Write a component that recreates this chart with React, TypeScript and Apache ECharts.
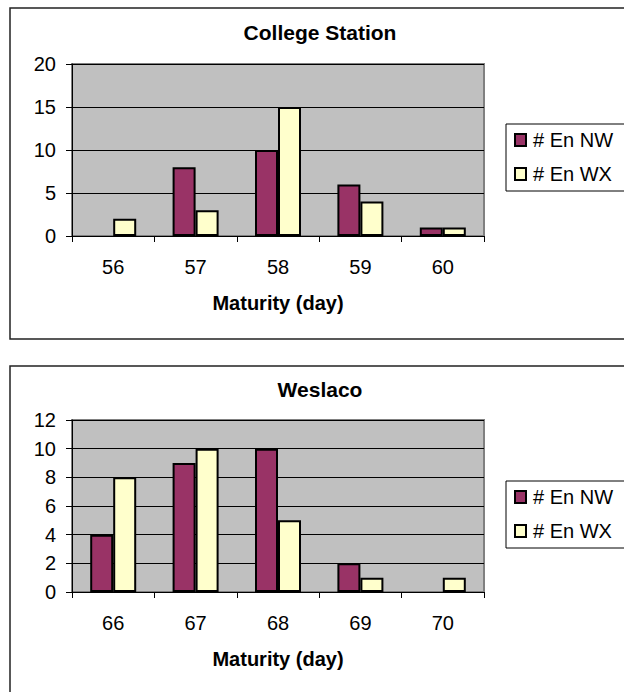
import React, { useEffect, useRef } from "react";
import * as echarts from "echarts";

// Maturity-day distributions at two locations (null = no plants that day)
const stationTitles = ["College Station", "Weslaco"];
const seriesNames = ["# En NW", "# En WX"];
const axisName = "Maturity (day)";

const collegeDays = ["56", "57", "58", "59", "60"];
const collegeNW = [null, 8, 10, 6, 1];
const collegeWX = [2, 3, 15, 4, 1];
const collegeTicks = { max: 20, interval: 5 };

const weslacoDays = ["66", "67", "68", "69", "70"];
const weslacoNW = [4, 9, 10, 2, null];
const weslacoWX = [8, 10, 5, 1, 1];
const weslacoTicks = { max: 12, interval: 2 };

const FONT = "'Liberation Sans', Arial, Helvetica, sans-serif";
const NW_COLOR = "#993366";
const WX_COLOR = "#FFFFCC";

export default function App() {
  const ref = useRef<HTMLDivElement>(null);

  useEffect(() => {
    if (!ref.current) return;
    const chart = echarts.init(ref.current, undefined, { renderer: "svg" });

    const panels = [
      { top: 8, gridTop: 64, gridBottom: 456, titleTop: 22, legendTop: 130, boxTop: 124, days: collegeDays, nw: collegeNW, wx: collegeWX, ticks: collegeTicks },
      { top: 366, gridTop: 420, gridBottom: 100, titleTop: 379, legendTop: 487, boxTop: 481, days: weslacoDays, nw: weslacoNW, wx: weslacoWX, ticks: weslacoTicks },
    ];

    const textBase = { fontFamily: FONT, color: "#000" };

    const option: any = {
      animation: false,
      backgroundColor: "#fff",
      title: panels.map((p, i) => ({
        text: stationTitles[i],
        left: 320,
        textAlign: "center",
        top: p.titleTop,
        padding: 0,
        textStyle: { ...textBase, fontSize: 21, fontWeight: "bold" },
      })),
      legend: panels.map((p) => ({
        data: seriesNames,
        orient: "vertical",
        left: 514,
        top: p.legendTop,
        padding: 0,
        itemGap: 14,
        itemWidth: 11,
        itemHeight: 12,
        icon: "rect",
        selectedMode: false,
        textStyle: { ...textBase, fontSize: 20, padding: [0, 0, 0, 2] },
      })),
      grid: panels.map((p) => ({
        left: 72,
        right: 140,
        top: p.gridTop,
        bottom: p.gridBottom,
        show: true,
        backgroundColor: "#C0C0C0",
        borderColor: "#808080",
        borderWidth: 2,
      })),
      xAxis: panels.map((p, i) => ({
        type: "category",
        gridIndex: i,
        data: p.days,
        name: axisName,
        nameLocation: "middle",
        nameGap: 57,
        nameTextStyle: { ...textBase, fontSize: 20, fontWeight: "bold" },
        axisLine: { lineStyle: { color: "#000", width: 1 } },
        axisTick: { show: true, length: 6, lineStyle: { color: "#000" } },
        axisLabel: { ...textBase, fontSize: 20, margin: 21 },
      })),
      yAxis: panels.map((p, i) => ({
        type: "value",
        gridIndex: i,
        min: 0,
        max: p.ticks.max,
        interval: p.ticks.interval,
        axisLine: { show: true, lineStyle: { color: "#000", width: 1 } },
        axisTick: { show: true, length: 6, lineStyle: { color: "#000" } },
        axisLabel: { ...textBase, fontSize: 20, margin: 16 },
        splitLine: { show: true, lineStyle: { color: "#000", width: 1 } },
      })),
      series: panels.flatMap((p, i) => [
        {
          type: "bar",
          name: seriesNames[0],
          xAxisIndex: i,
          yAxisIndex: i,
          data: p.nw,
          barWidth: 23,
          barGap: "0%",
          itemStyle: { color: NW_COLOR, borderColor: "#000", borderWidth: 2 },
        },
        {
          type: "bar",
          name: seriesNames[1],
          xAxisIndex: i,
          yAxisIndex: i,
          data: p.wx,
          barWidth: 23,
          barGap: "0%",
          itemStyle: { color: WX_COLOR, borderColor: "#000", borderWidth: 2 },
        },
      ]),
      graphic: panels.flatMap((p) => [
        {
          type: "rect",
          silent: true,
          z: -1,
          shape: { x: 10, y: p.top, width: 640, height: 331 },
          style: { fill: "none", stroke: "#222", lineWidth: 1.5 },
        },
        {
          type: "rect",
          silent: true,
          shape: { x: 506, y: p.boxTop, width: 200, height: 67 },
          style: { fill: "#fff", stroke: "#000", lineWidth: 1 },
          z: 0,
        },
      ]),
    };

    chart.setOption(option);
    return () => chart.dispose();
  }, []);

  return (
    <div
      ref={ref}
      style={{ position: "absolute", left: 0, top: 0, width: 624, height: 692 }}
    />
  );
}
